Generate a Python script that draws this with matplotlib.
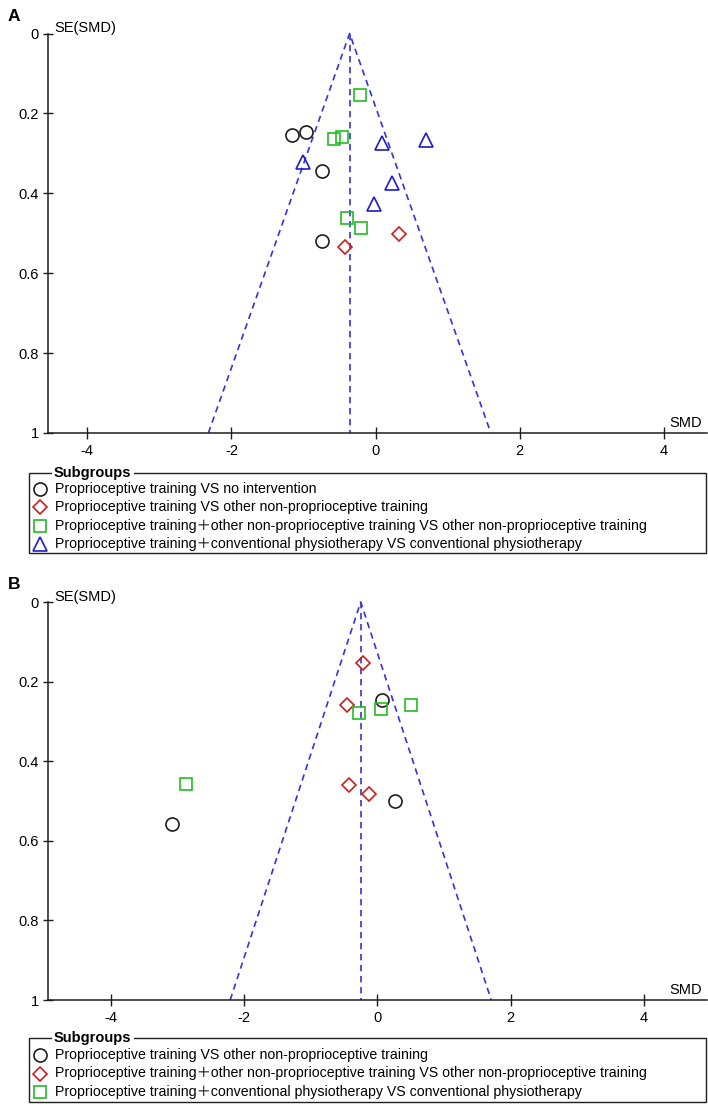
import matplotlib
matplotlib.use("Agg")
import matplotlib.pyplot as plt
from matplotlib.lines import Line2D
from matplotlib.patches import Rectangle
from matplotlib import font_manager

plt.rcParams['font.family'] = ['Liberation Sans', 'Noto Sans CJK SC', 'DejaVu Sans']

# ---- данные: панель A ----
a_pooled = -0.36
a_circle_smd = [-1.16, -0.96, -0.74, -0.74]
a_circle_se = [0.254, 0.247, 0.343, 0.520]
a_diamond_smd = [-0.43, 0.32]
a_diamond_se = [0.535, 0.501]
a_square_smd = [-0.22, -0.58, -0.47, -0.40, -0.20]
a_square_se = [0.155, 0.263, 0.260, 0.463, 0.486]
a_triangle_smd = [0.09, 0.70, -1.01, 0.23, -0.02]
a_triangle_se = [0.274, 0.266, 0.322, 0.373, 0.426]
a_labels = [
    "Proprioceptive training VS no intervention",
    "Proprioceptive training VS other non-proprioceptive training",
    "Proprioceptive training\uff0bother non-proprioceptive training VS other non-proprioceptive training",
    "Proprioceptive training\uff0bconventional physiotherapy VS conventional physiotherapy",
]

# ---- данные: панель B ----
b_pooled = -0.25
b_circle_smd = [0.07, 0.27, -3.08]
b_circle_se = [0.246, 0.501, 0.557]
b_diamond_smd = [-0.22, -0.45, -0.43, -0.13]
b_diamond_se = [0.154, 0.258, 0.461, 0.482]
b_square_smd = [-0.27, 0.05, 0.50, -2.88]
b_square_se = [0.279, 0.270, 0.258, 0.458]
b_labels = [
    "Proprioceptive training VS other non-proprioceptive training",
    "Proprioceptive training\uff0bother non-proprioceptive training VS other non-proprioceptive training",
    "Proprioceptive training\uff0bconventional physiotherapy VS conventional physiotherapy",
]

x_ticks = [-4, -2, 0, 2, 4]
y_ticks = [0, 0.2, 0.4, 0.6, 0.8, 1]
y_ticklabels = ["0", "0.2", "0.4", "0.6", "0.8", "1"]

W, H = 708, 1113
FUNNEL = '#3333dd'
STYLES = {
    'o': dict(marker='o', ms=9.4, mec='#1e1e1e'),
    'D': dict(marker='D', ms=7.4, mec='#cc2020'),
    's': dict(marker='s', ms=8.2, mec='#22bb22'),
    '^': dict(marker='^', ms=10.6, mec='#1c1cc8'),
}

names = {f.name for f in font_manager.fontManager.ttflist}
if 'Liberation Sans Narrow' in names:
    legend_family = ['Liberation Sans Narrow', 'Noto Sans CJK SC']
    legend_size = 11.6
else:
    legend_family = ['Liberation Sans', 'Noto Sans CJK SC']
    legend_size = 10.2


def fx(px):
    return px / W


def fy(py):
    return 1 - py / H


def funnel(ax, series, pooled, xlim):
    c = pooled
    ax.plot([c - 1.96, c, c + 1.96], [1, 0, 1], color=FUNNEL, lw=1.2,
            dashes=(3.8, 2.8), clip_on=False)
    ax.plot([c, c], [0, 1], color=FUNNEL, lw=1.2, dashes=(3.8, 2.8))
    for key, xs, ys in series:
        ax.plot(xs, ys, ls='none', mfc='none', mew=1.2, clip_on=False,
                **STYLES[key])
    ax.set_xlim(*xlim)
    ax.set_ylim(1, 0)
    ax.set_xticks(x_ticks)
    ax.set_xticklabels([str(t) for t in x_ticks])
    ax.set_yticks(y_ticks)
    ax.set_yticklabels(y_ticklabels)
    for s in ['top', 'right']:
        ax.spines[s].set_visible(False)
    for s in ['left', 'bottom']:
        ax.spines[s].set_linewidth(1.1)
        ax.spines[s].set_color('#1e1e1e')
    ax.tick_params(axis='x', direction='inout', length=8, width=1.0,
                   labelsize=10.5, pad=4, color='#1e1e1e')
    ax.tick_params(axis='y', direction='inout', length=7, width=1.0,
                   labelsize=10.5, pad=3, color='#1e1e1e')
    ax.annotate('SE(SMD)', xy=(0, 1), xycoords='axes fraction',
                xytext=(7, 1.5), textcoords='offset pixels',
                ha='left', va='baseline', fontsize=10.5)
    ax.annotate('SMD', xy=(1, 0), xycoords='axes fraction',
                xytext=(-5, 3), textcoords='offset pixels',
                ha='right', va='bottom', fontsize=10.5)


def legend_box(fig, top, bottom, rows, keys, labels):
    fig.add_artist(Rectangle((fx(29), fy(bottom)), fx(706) - fx(29),
                             fy(top) - fy(bottom), transform=fig.transFigure,
                             fill=False, lw=1.0, ec='#1e1e1e'))
    fig.text(fx(54), fy(top), 'Subgroups', ha='left', va='center',
             fontsize=10.5, fontweight='bold',
             bbox=dict(fc='white', ec='none', pad=1.5))
    for y, key, lab in zip(rows, keys, labels):
        fig.add_artist(Line2D([fx(40)], [fy(y)], transform=fig.transFigure,
                              ls='none', mfc='none', mew=1.2, **STYLES[key]))
        fig.text(fx(55), fy(y), lab, ha='left', va='center',
                 fontsize=legend_size, family=legend_family)


fig = plt.figure(figsize=(W / 100, H / 100), dpi=100)

# панель A
axA = fig.add_axes([fx(47.7), fy(433), fx(707) - fx(47.7), fy(33.5) - fy(433)])
funnel(axA, [('o', a_circle_smd, a_circle_se),
             ('D', a_diamond_smd, a_diamond_se),
             ('s', a_square_smd, a_square_se),
             ('^', a_triangle_smd, a_triangle_se)], a_pooled, (-4.55, 4.6))
fig.text(fx(8), fy(21), 'A', ha='left', va='baseline', fontsize=12.5,
         fontweight='bold')
legend_box(fig, 473, 553, [489, 507.3, 525.6, 544], ['o', 'D', 's', '^'],
           a_labels)

# панель B
axB = fig.add_axes([fx(47.7), fy(1000), fx(707) - fx(47.7), fy(602) - fy(1000)])
funnel(axB, [('o', b_circle_smd, b_circle_se),
             ('D', b_diamond_smd, b_diamond_se),
             ('s', b_square_smd, b_square_se)], b_pooled, (-4.95, 4.95))
fig.text(fx(8), fy(589), 'B', ha='left', va='baseline', fontsize=12.5,
         fontweight='bold')
legend_box(fig, 1038, 1102, [1055, 1073.5, 1092], ['o', 'D', 's'], b_labels)

fig.savefig('out.png', dpi=100)
